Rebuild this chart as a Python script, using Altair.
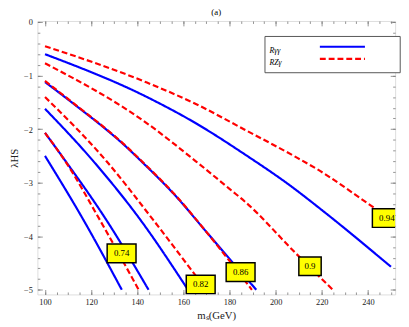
import altair as alt
import pandas as pd

SERIES = ["Rγγ", "RZγ"]

# R_γγ curves (solid blue)
b1_m = [100, 144.2, 165.4, 186.6, 206.5, 220.6, 250]
b1_l = [-0.60, -1.40, -1.89, -2.47, -3.06, -3.53, -4.57]
b2_m = [100, 111.6, 135.7, 142, 156.9, 169.6, 191.6]
b2_l = [-1.12, -1.50, -2.35, -2.61, -3.26, -3.90, -5.0]
b3_m = [100, 120.8, 141.3, 162]
b3_l = [-1.62, -2.59, -3.69, -5.0]
b4_m = [100, 108.8, 126.5, 144.9]
b4_l = [-2.07, -2.59, -3.69, -5.0]
b5_m = [100, 116.6, 133.3]
b5_l = [-2.50, -3.69, -5.0]

# R_Zγ curves (dashed red)
r1_m = [100, 144.2, 165.4, 186.6, 207.9, 217.7, 241.8, 250]
r1_l = [-0.45, -1.13, -1.53, -2.01, -2.50, -2.74, -3.44, -3.68]
r2_m = [100, 144.2, 165.4, 181, 186.6, 209, 224.8]
r2_l = [-0.77, -1.89, -2.60, -3.15, -3.35, -4.33, -5.0]
r3_m = [100, 111.6, 135.7, 142, 156.9, 169.6, 189.7]
r3_l = [-1.10, -1.49, -2.34, -2.60, -3.25, -3.90, -5.0]
r4_m = [100, 126.5, 147, 164, 170]
r4_l = [-1.40, -2.59, -3.70, -4.66, -5.0]
r5_m = [100, 108.8, 123.7, 140.6]
r5_l = [-2.07, -2.60, -3.69, -5.0]

# contour labels
box_text = ["0.74", "0.82", "0.86", "0.9", "0.94"]
box_m = [133.2, 167.5, 184.8, 214.9, 248.2]
box_l = [-4.32, -4.90, -4.67, -4.56, -3.66]

# ticks
x_major = [100, 120, 140, 160, 180, 200, 220, 240]
x_minor = list(range(100, 251, 5))
y_major = [-5, -4, -3, -2, -1, 0]
y_minor = [round(-5 + 0.2 * i, 1) for i in range(26)]

curves = [
    ("b1", SERIES[0], b1_m, b1_l), ("b2", SERIES[0], b2_m, b2_l),
    ("b3", SERIES[0], b3_m, b3_l), ("b4", SERIES[0], b4_m, b4_l),
    ("b5", SERIES[0], b5_m, b5_l),
    ("r1", SERIES[1], r1_m, r1_l), ("r2", SERIES[1], r2_m, r2_l),
    ("r3", SERIES[1], r3_m, r3_l), ("r4", SERIES[1], r4_m, r4_l),
    ("r5", SERIES[1], r5_m, r5_l),
]
rows = []
for cid, s, ms, ls in curves:
    for m, l in zip(ms, ls):
        rows.append({"curve": cid, "series": s, "m": m, "lam": l})
df = pd.DataFrame(rows)
lab = pd.DataFrame({"label": box_text, "m": box_m, "lam": box_l})

FONT = "Liberation Serif"
xs = alt.Scale(domain=[96.7, 251.8], nice=False, zero=False)
ys = alt.Scale(domain=[-5.086, 0.02], nice=False, zero=False)
cs = alt.Scale(domain=SERIES, range=["#0000ff", "#ff0000"])
ds = alt.Scale(domain=SERIES, range=[[1, 0], [6, 3]])


def axis(orient, values, major, labels=False, title=""):
    kw = dict(orient=orient, values=values, grid=False, domain=False,
              tickColor="#777", tickWidth=0.8,
              tickSize=alt.ExprRef(expr="-5" if major else "-2.5"),
              labels=labels, title=title)
    if labels:
        kw.update(labelFont=FONT, labelFontSize=8.5, labelColor="#222",
                  labelFlush=False, labelOverlap=False, format="d",
                  labelPadding=8 if orient == "bottom" else 10,
                  titleFont=FONT, titleFontSize=11, titleFontWeight="normal",
                  titleColor="#222", titlePadding=4)
    return alt.Axis(**kw)


PAD = "\u00a0" * 6
legend = alt.Legend(
    title=[PAD + SERIES[0], PAD + SERIES[1]], titleOrient="left",
    titleFont=FONT, titleFontSize=8, titleFontStyle="italic",
    titleFontWeight="normal", titleColor="black", titleLineHeight=12.4,
    titleBaseline="top", titlePadding=37,
    orient="none", legendX=231.7, legendY=15.3,
    symbolType="stroke", symbolSize=2116, symbolStrokeWidth=2.2,
    clipHeight=12, rowPadding=0.4, padding=5,
    labelFont=FONT, labelFontSize=8, labelOpacity=0, labelOffset=15,
    fillColor="white", strokeColor="#555",
)

base = alt.Chart(df)
blue = base.transform_filter(alt.datum.series == SERIES[0]).mark_line(
    strokeWidth=2.2, interpolate="monotone", clip=True
).encode(
    x=alt.X("m:Q", scale=xs, axis=axis("bottom", x_major, True, True, "mₛ(GeV)")),
    y=alt.Y("lam:Q", scale=ys, axis=axis("left", y_major, True, True, "λHS")),
    color=alt.Color("series:N", scale=cs, legend=legend),
    strokeDash=alt.StrokeDash("series:N", scale=ds, legend=legend),
    detail="curve:N",
)
red = base.transform_filter(alt.datum.series == SERIES[1]).mark_line(
    strokeWidth=2.2, interpolate="monotone", clip=True
).encode(
    x=alt.X("m:Q", scale=xs, axis=axis("bottom", x_minor, False)),
    y=alt.Y("lam:Q", scale=ys, axis=axis("left", y_minor, False)),
    color=alt.Color("series:N", scale=cs, legend=legend),
    strokeDash=alt.StrokeDash("series:N", scale=ds, legend=legend),
    detail="curve:N",
)
wide = "M-1.55,-1H1.55V1H-1.55Z"
narrow = "M-1.2,-1H1.2V1H-1.2Z"
boxes = alt.Chart(lab).mark_point(
    filled=True, fill="#ffff00", stroke="black", strokeWidth=1.5,
    opacity=1, size=361, clip=True
).encode(
    x=alt.X("m:Q", scale=xs, axis=axis("top", x_major, True)),
    y=alt.Y("lam:Q", scale=ys, axis=axis("right", y_major, True)),
    shape=alt.condition("length(datum.label) < 4", alt.value(narrow), alt.value(wide)),
)
texts = alt.Chart(lab).mark_text(
    font=FONT, fontSize=9, color="black", baseline="middle", clip=True
).encode(
    x=alt.X("m:Q", scale=xs, axis=axis("top", x_minor, False)),
    y=alt.Y("lam:Q", scale=ys, axis=axis("right", y_minor, False)),
    text="label:N",
)

chart = alt.layer(blue, red, boxes, texts).resolve_axis(
    x="independent", y="independent"
).properties(
    width=365, height=279,
    autosize=alt.AutoSizeParams(type="none"),
    padding={"left": 30, "top": 10, "right": 6, "bottom": 30},
    title=alt.Title("(a)", font=FONT, fontSize=9, fontWeight="normal",
                    offset=1, anchor="middle", color="black"),
).configure_view(stroke="#555", strokeWidth=1).configure(background="white")

chart.save("out.html", embed_options={"renderer": "svg", "actions": False})
